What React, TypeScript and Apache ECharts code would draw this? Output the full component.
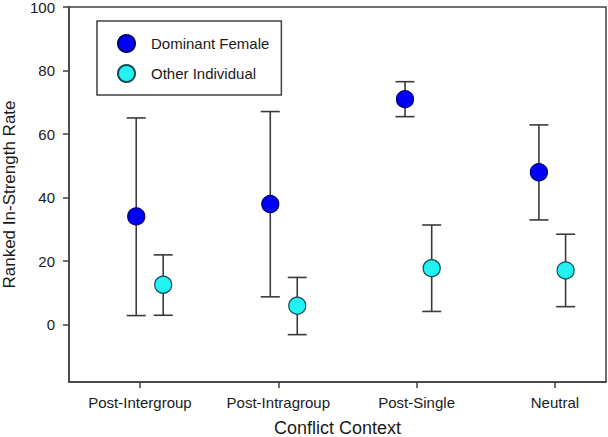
import React, { useEffect, useRef } from "react";
import * as echarts from "echarts";

const categories = ["Post-Intergroup", "Post-Intragroup", "Post-Single", "Neutral"];
const categoryTicks = [1, 2, 3, 4];
const yTicks = [0, 20, 40, 60, 80, 100];

const dominantX = [0.973, 1.942, 2.916, 3.884];
const dominantMean = [34.1, 38.0, 71.0, 48.0];
const dominantLow = [2.9, 8.8, 65.5, 33.0];
const dominantHigh = [65.1, 67.1, 76.5, 62.9];

const otherX = [1.168, 2.137, 3.109, 4.077];
const otherMean = [12.6, 6.0, 17.8, 17.1];
const otherLow = [3.0, -3.1, 4.2, 5.7];
const otherHigh = [22.0, 14.9, 31.4, 28.5];

const FONT = "Liberation Sans, Arial, sans-serif";
const AXIS = "#404040";

export default function App() {
  const ref = useRef<HTMLDivElement>(null);
  useEffect(() => {
    document.body.style.margin = "0";
    if (!ref.current) return;
    const chart = echarts.init(ref.current, undefined, { renderer: "svg" });

    const errData = [
      ...dominantX.map((x, i) => [x, dominantLow[i], dominantHigh[i]]),
      ...otherX.map((x, i) => [x, otherLow[i], otherHigh[i]]),
    ];

    const renderErr = (params: any, api: any) => {
      const x = api.value(0);
      const lo = api.coord([x, api.value(1)]);
      const hi = api.coord([x, api.value(2)]);
      const hw = 9.5;
      const style = { stroke: "#3a3a3a", lineWidth: 1.6 };
      return {
        type: "group",
        children: [
          { type: "line", shape: { x1: lo[0], y1: lo[1], x2: hi[0], y2: hi[1] }, style },
          { type: "line", shape: { x1: hi[0] - hw, y1: hi[1], x2: hi[0] + hw, y2: hi[1] }, style },
          { type: "line", shape: { x1: lo[0] - hw, y1: lo[1], x2: lo[0] + hw, y2: lo[1] }, style },
        ],
      };
    };

    chart.setOption({
      animation: false,
      backgroundColor: "#ffffff",
      textStyle: { fontFamily: FONT },
      grid: {
        left: 69,
        top: 7,
        right: 2,
        bottom: 55,
        containLabel: false,
        outerBoundsMode: "none",
        show: true,
        borderColor: AXIS,
        borderWidth: 1.5,
      },
      legend: {
        orient: "vertical",
        left: 97,
        top: 21,
        data: ["Dominant Female", "Other Individual"],
        icon: "circle",
        itemWidth: 17,
        itemHeight: 17,
        itemGap: 11,
        padding: [13, 12, 12, 20],
        borderColor: AXIS,
        borderWidth: 1.5,
        textStyle: {
          fontFamily: FONT,
          fontSize: 15,
          color: "#1a1a1a",
          padding: [0, 0, 0, 11],
        },
      },
      xAxis: {
        type: "value",
        min: 0.487,
        max: 4.369,
        name: "Conflict Context",
        nameLocation: "middle",
        nameGap: 37,
        nameTextStyle: { fontFamily: FONT, fontSize: 18, color: "#1a1a1a" },
        axisLine: { show: true, onZero: false, lineStyle: { color: AXIS, width: 1.5 } },
        axisTick: {
          show: true,
          length: 6,
          customValues: categoryTicks,
          lineStyle: { color: AXIS, width: 1.5 },
        },
        axisLabel: {
          customValues: categoryTicks,
          margin: 13,
          fontFamily: FONT,
          fontSize: 15,
          color: "#1a1a1a",
          formatter: (v: number) => categories[Math.round(v) - 1] ?? "",
        },
        splitLine: { show: false },
      },
      yAxis: {
        type: "value",
        min: -18,
        max: 100,
        name: "Ranked In-Strength Rate",
        nameLocation: "middle",
        nameGap: 51,
        nameTextStyle: { fontFamily: FONT, fontSize: 17, color: "#1a1a1a" },
        axisLine: { show: true, onZero: false, lineStyle: { color: AXIS, width: 1.5 } },
        axisTick: {
          show: true,
          length: 6,
          customValues: yTicks,
          lineStyle: { color: AXIS, width: 1.5 },
        },
        axisLabel: {
          customValues: yTicks,
          margin: 14,
          fontFamily: FONT,
          fontSize: 15,
          color: "#1a1a1a",
        },
        splitLine: { show: false },
      },
      series: [
        {
          type: "custom",
          name: "errors",
          renderItem: renderErr,
          data: errData,
          encode: { x: 0, y: [1, 2] },
          z: 1,
          silent: true,
        },
        {
          type: "scatter",
          name: "Dominant Female",
          data: dominantX.map((x, i) => [x, dominantMean[i]]),
          symbol: "circle",
          symbolSize: 17,
          itemStyle: { color: "#0000f5", borderColor: "#000070", borderWidth: 1.2, opacity: 1 },
          z: 3,
        },
        {
          type: "scatter",
          name: "Other Individual",
          data: otherX.map((x, i) => [x, otherMean[i]]),
          symbol: "circle",
          symbolSize: 17,
          itemStyle: { color: "#22f2f2", borderColor: "#104a58", borderWidth: 1.2, opacity: 1 },
          z: 3,
        },
      ],
    });
    return () => chart.dispose();
  }, []);
  return <div ref={ref} style={{ width: 608, height: 437 }} />;
}
